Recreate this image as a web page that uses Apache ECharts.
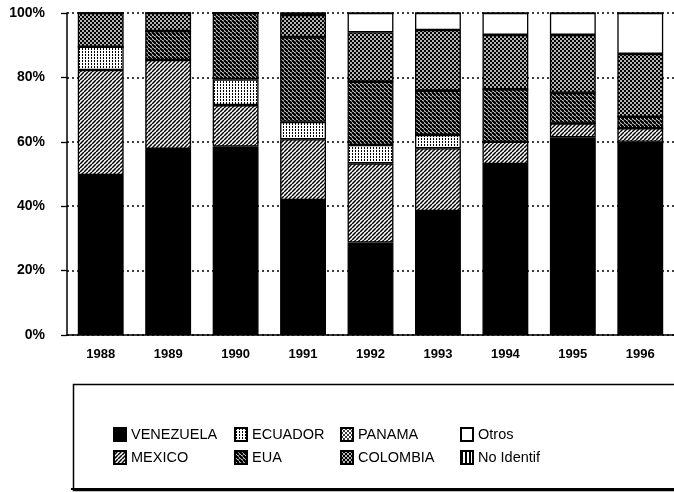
<!DOCTYPE html>
<html><head><meta charset="utf-8">
<script src="https://cdn.jsdelivr.net/npm/echarts@6/dist/echarts.min.js"></script>
<style>html,body{margin:0;padding:0;background:#fff}#c{width:674px;height:492px}</style>
</head><body><div id="c"></div>
<script>
const years = ['1988','1989','1990','1991','1992','1993','1994','1995','1996'];
const yTicks = [0, 20, 40, 60, 80, 100];
const venezuela = [49.7, 57.8, 58.5, 41.9, 28.7, 38.5, 53.1, 61.4, 60.0];
const mexico    = [32.6, 27.6, 12.9, 18.9, 24.6, 19.5, 6.9, 4.3, 4.2];
const ecuador   = [7.2, 0, 8.0, 5.4, 5.7, 4.1, 0, 0, 0];
const eua       = [0, 9.0, 20.6, 26.3, 19.7, 13.8, 16.3, 9.5, 3.6];
const panama    = [0, 0, 0, 0, 0, 0, 0, 0, 0];
const colombia  = [10.5, 5.6, 0, 6.9, 15.3, 18.8, 16.9, 18.0, 19.5];
const otros     = [0, 0, 0, 0.6, 6.0, 5.3, 6.8, 6.8, 12.7];
const noIdentif = [0, 0, 0, 0, 0, 0, 0, 0, 0];

function pat(w, h, draw) {
  const c = document.createElement('canvas');
  c.width = w; c.height = h;
  const g = c.getContext('2d');
  draw(g, w, h);
  return { image: c, repeat: 'repeat' };
}
const black = '#000';
const pMexico = pat(4, 4, (g, w, h) => {
  g.fillStyle = '#fff'; g.fillRect(0, 0, w, h);
  g.strokeStyle = black; g.lineWidth = 1.5;
  for (let k = -1; k <= 1; k++) { g.beginPath(); g.moveTo(k * w, h); g.lineTo(k * w + w, 0); g.stroke(); }
});
const pEua = pat(4, 4, (g, w, h) => {
  g.fillStyle = '#fff'; g.fillRect(0, 0, w, h);
  g.strokeStyle = black; g.lineWidth = 2.4;
  for (let k = -1; k <= 1; k++) { g.beginPath(); g.moveTo(k * w, 0); g.lineTo(k * w + w, h); g.stroke(); }
});
const pEcuador = pat(3, 3, (g, w, h) => {
  g.fillStyle = '#fff'; g.fillRect(0, 0, w, h);
  g.fillStyle = black; g.fillRect(1, 0, 1, 2);
});
const pColombia = pat(4, 4, (g, w, h) => {
  g.fillStyle = black; g.fillRect(0, 0, w, h);
  g.fillStyle = '#fff';
  g.beginPath(); g.arc(1, 1, 0.95, 0, Math.PI * 2); g.fill();
  g.beginPath(); g.arc(3, 3, 0.95, 0, Math.PI * 2); g.fill();
});
const pPanama = pat(4, 4, (g, w, h) => {
  g.fillStyle = '#fff'; g.fillRect(0, 0, w, h);
  g.fillStyle = black;
  g.beginPath(); g.arc(1, 1, 1.0, 0, Math.PI * 2); g.fill();
  g.beginPath(); g.arc(3, 3, 1.0, 0, Math.PI * 2); g.fill();
});
const pNoId = pat(4, 1, (g, w, h) => {
  g.fillStyle = '#fff'; g.fillRect(0, 0, w, h);
  g.fillStyle = black; g.fillRect(0, 0, 2, 1);
});

const seriesDefs = [
  ['VENEZUELA', venezuela, '#000'],
  ['MEXICO', mexico, pMexico],
  ['ECUADOR', ecuador, pEcuador],
  ['EUA', eua, pEua],
  ['PANAMA', panama, pPanama],
  ['COLOMBIA', colombia, pColombia],
  ['Otros', otros, '#fff'],
  ['No Identif', noIdentif, pNoId]
];
const font = '"Liberation Sans", Arial, sans-serif';
const chart = echarts.init(document.getElementById('c'), null, { renderer: 'canvas' });
const legendCols = [['VENEZUELA', 'MEXICO', 108], ['ECUADOR', 'EUA', 229], ['PANAMA', 'COLOMBIA', 335], ['Otros', 'No Identif', 455]];
chart.setOption({
  animation: false,
  backgroundColor: '#fff',
  grid: { left: 67, top: 13, width: 615, height: 322 },
  xAxis: {
    type: 'category', data: years,
    axisLine: { lineStyle: { color: '#000', width: 1.5 } },
    axisTick: { length: 12, lineStyle: { color: '#000', width: 1.3 } },
    axisLabel: { margin: 13, color: '#000', fontFamily: font, fontWeight: 'bold', fontSize: 13 }
  },
  yAxis: {
    type: 'value', min: yTicks[0], max: yTicks[yTicks.length - 1], interval: yTicks[1] - yTicks[0],
    axisLine: { show: true, lineStyle: { color: '#000', width: 1.5 } },
    axisTick: { show: true, length: 6, lineStyle: { color: '#000', width: 1.3 } },
    axisLabel: { margin: 22, color: '#000', fontFamily: font, fontWeight: 'bold', fontSize: 14, formatter: '{value}%' },
    splitLine: { show: true, lineStyle: { color: '#000', width: 1.5, type: [2, 3] } }
  },
  legend: legendCols.map(c => ({
    data: [c[0], c[1]], left: c[2], top: 422, orient: 'vertical', itemGap: 8,
    itemWidth: 12, itemHeight: 13, icon: 'rect',
    textStyle: { fontFamily: font, fontSize: 14.5, color: '#000' }
  })),
  graphic: [
    { type: 'rect', left: 71, top: 382, shape: { width: 620, height: 106 }, style: { fill: 'none', stroke: '#000', lineWidth: 1.5 } },
    { type: 'line', shape: { x1: 71, y1: 489, x2: 674, y2: 489 }, style: { stroke: '#000', lineWidth: 2 } }
  ],
  series: seriesDefs.map(d => ({
    name: d[0], type: 'bar', stack: 'all', barWidth: '68%', data: d[1],
    itemStyle: { color: d[2], borderColor: '#000', borderWidth: 1.3 },
    emphasis: { disabled: true }
  }))
});
</script></body></html>
